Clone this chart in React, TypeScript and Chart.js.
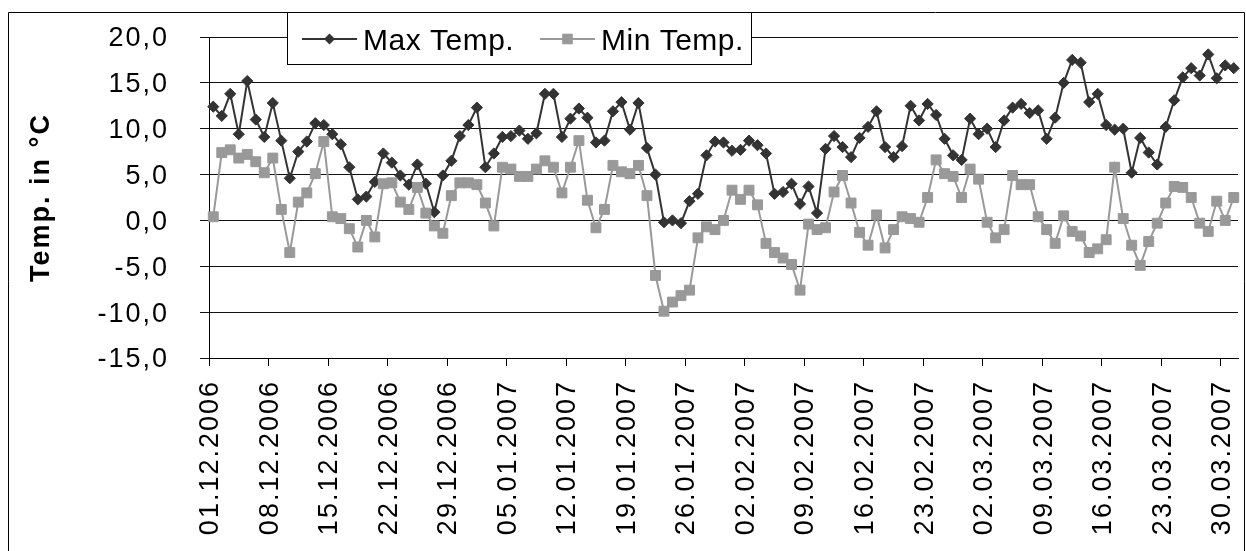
import React, { useEffect, useRef } from 'react';
import { Chart, registerables } from 'chart.js';

Chart.register(...registerables);

// ---------- data ----------
const MONTHS = [
  { month: 12, year: 2006, days: 31 },
  { month: 1, year: 2007, days: 31 },
  { month: 2, year: 2007, days: 28 },
  { month: 3, year: 2007, days: 31 },
];
const pad2 = (n: number) => String(n).padStart(2, '0');
const categories: string[] = [];
MONTHS.forEach(({ month, year, days }) => {
  for (let d = 1; d <= days; d++) categories.push(`${pad2(d)}.${pad2(month)}.${year}`);
});

const maxTemp = [
  12.4, 11.4, 13.8, 9.4, 15.2, 11.0, 9.1, 12.8, 8.7, 4.6,
  7.5, 8.6, 10.6, 10.4, 9.4, 8.3, 5.8, 2.3, 2.6, 4.2,
  7.3, 6.3, 4.9, 3.9, 6.1, 4.0, 0.9, 4.9, 6.5, 9.2,
  10.4, 12.3, 5.8, 7.3, 9.1, 9.2, 9.8, 8.9, 9.5, 13.8,
  13.8, 9.1, 11.1, 12.2, 11.2, 8.5, 8.7, 11.9, 12.9, 9.9,
  12.8, 7.9, 5.0, -0.2, 0.0, -0.3, 2.1, 2.9, 7.1, 8.6,
  8.5, 7.6, 7.7, 8.7, 8.2, 7.3, 2.9, 3.1, 4.0, 1.8,
  3.7, 0.8, 7.8, 9.2, 8.0, 6.9, 9.0, 10.2, 11.9, 8.0,
  6.9, 8.1, 12.5, 10.9, 12.7, 11.5, 8.9, 7.1, 6.6, 11.1,
  9.4, 10.0, 8.0, 10.9, 12.3, 12.7, 11.7, 12.0, 8.9, 11.2,
  15.0, 17.5, 17.2, 12.9, 13.8, 10.4, 9.9, 10.0, 5.2, 9.0,
  7.4, 6.1, 10.2, 13.1, 15.6, 16.6, 15.8, 18.1, 15.5, 16.9,
  16.6,
];

const minTemp = [
  0.4, 7.4, 7.7, 6.8, 7.2, 6.4, 5.2, 6.8, 1.2, -3.5,
  2.0, 3.0, 5.1, 8.6, 0.4, 0.2, -0.9, -2.9, 0.0, -1.8,
  4.0, 4.1, 2.0, 1.2, 3.6, 0.8, -0.6, -1.4, 2.7, 4.1,
  4.1, 3.9, 1.9, -0.6, 5.8, 5.6, 4.8, 4.8, 5.6, 6.5,
  5.8, 3.0, 5.8, 8.7, 2.2, -0.8, 1.2, 6.0, 5.3, 5.1,
  6.0, 2.7, -6.0, -9.9, -8.9, -8.2, -7.6, -1.9, -0.7, -1.0,
  0.0, 3.3, 2.3, 3.3, 1.7, -2.5, -3.5, -4.1, -4.8, -7.6,
  -0.4, -1.0, -0.8, 3.1, 4.9, 1.9, -1.3, -2.7, 0.6, -3.0,
  -1.0, 0.4, 0.2, -0.2, 2.5, 6.6, 5.1, 4.8, 2.5, 5.6,
  4.5, -0.2, -1.9, -1.0, 4.9, 3.9, 3.9, 0.4, -1.0, -2.5,
  0.5, -1.2, -1.7, -3.5, -3.1, -2.1, 5.8, 0.2, -2.7, -4.9,
  -2.3, -0.3, 1.9, 3.7, 3.6, 2.5, -0.3, -1.2, 2.1, 0.0,
  2.5,
];

const seriesLabels = ['Max Temp.', 'Min Temp.'];
const yAxisTitle = 'Temp. in °C';
const yMin = -15;
const yMax = 20;
const yStep = 5;
const labelEvery = 7;

// ---------- styling ----------
const FONT = '"Liberation Sans", Arial, sans-serif';
const MAX_COLOR = '#333333';
const MIN_COLOR = '#999999';
const W = 1246;
const H = 551;

const zeroPadding = (s: any) => {
  s.paddingTop = 0;
  s.paddingBottom = 0;
  s.paddingLeft = 0;
  s.paddingRight = 0;
};

const framePlugin = {
  id: 'frameAndLetterSpacing',
  beforeDraw(chart: any) {
    const ctx = chart.ctx as any;
    ctx.letterSpacing = '2px';
  },
  afterDraw(chart: any) {
    const ctx = chart.ctx as any;
    ctx.save();
    ctx.letterSpacing = '0px';
    ctx.strokeStyle = '#000';
    ctx.lineWidth = 1;
    ctx.beginPath();
    ctx.moveTo(8.5, H);
    ctx.lineTo(8.5, 12.5);
    ctx.lineTo(1244.5, 12.5);
    ctx.lineTo(1244.5, H);
    ctx.stroke();

    // legend box
    const bx = 287.5, by = 12.5, bw = 464, bh = 52;
    ctx.fillStyle = '#fff';
    ctx.fillRect(bx, by, bw, bh);
    ctx.strokeRect(bx, by, bw, bh);
    const startX = [302, 540];
    const cy = 39;
    chart.data.datasets.forEach((ds: any, i: number) => {
      const x0 = startX[i];
      ctx.strokeStyle = ds.borderColor;
      ctx.lineWidth = 2;
      ctx.beginPath();
      ctx.moveTo(x0, cy);
      ctx.lineTo(x0 + 55, cy);
      ctx.stroke();
      const mx = x0 + 27.5;
      ctx.fillStyle = ds.pointBackgroundColor;
      ctx.beginPath();
      if (ds.pointStyle === 'rectRot') {
        const r = 5.5;
        ctx.moveTo(mx - r, cy);
        ctx.lineTo(mx, cy - r);
        ctx.lineTo(mx + r, cy);
        ctx.lineTo(mx, cy + r);
        ctx.closePath();
      } else {
        ctx.rect(mx - 5.3, cy - 5.3, 10.6, 10.6);
      }
      ctx.fill();
      ctx.fillStyle = '#000';
      ctx.font = `30px ${FONT}`;
      ctx.letterSpacing = '0.5px';
      ctx.textAlign = 'left';
      ctx.textBaseline = 'alphabetic';
      ctx.fillText(ds.label, x0 + 61, 49.5);
      ctx.letterSpacing = '0px';
    });
    ctx.restore();
  },
};

export default function App() {
  const ref = useRef<HTMLCanvasElement | null>(null);

  useEffect(() => {
    document.body.style.margin = '0';
    document.body.style.overflow = 'hidden';
    const canvas = ref.current;
    if (!canvas) return;
    Chart.defaults.font.family = FONT;
    Chart.defaults.color = '#000';

    const chart = new Chart(canvas, {
      type: 'line',
      data: {
        labels: categories,
        datasets: [
          {
            label: seriesLabels[0],
            data: maxTemp,
            borderColor: MAX_COLOR,
            backgroundColor: MAX_COLOR,
            pointBackgroundColor: MAX_COLOR,
            pointBorderColor: MAX_COLOR,
            pointStyle: 'rectRot',
            pointRadius: 5.6,
            pointBorderWidth: 1,
            borderWidth: 2,
            tension: 0,
            fill: false,
            order: 1,
          },
          {
            label: seriesLabels[1],
            data: minTemp,
            borderColor: MIN_COLOR,
            backgroundColor: MIN_COLOR,
            pointBackgroundColor: MIN_COLOR,
            pointBorderColor: MIN_COLOR,
            pointStyle: 'rect',
            pointRadius: 7,
            pointBorderWidth: 1,
            borderWidth: 2,
            tension: 0,
            fill: false,
            order: 0,
          },
        ],
      },
      options: {
        responsive: false,
        animation: false,
        devicePixelRatio: 1,
        layout: { padding: { top: 37, right: 2, bottom: 0, left: 0 } },
        plugins: {
          legend: { display: false },
          tooltip: { enabled: false },
          title: { display: false },
        },
        scales: {
          x: {
            type: 'category',
            offset: true,
            afterFit: (s: any) => {
              s.height = H - 358;
              zeroPadding(s);
            },
            grid: {
              offset: true,
              drawOnChartArea: false,
              drawTicks: true,
              tickLength: 8,
              lineWidth: 1,
              color: (c: any) => (typeof c.index === 'number' && c.index % labelEvery === 0 ? '#000' : 'rgba(0,0,0,0)'),
            },
            border: { display: true, color: '#000', width: 1 },
            ticks: {
              autoSkip: false,
              maxRotation: 90,
              minRotation: 90,
              padding: 14,
              labelOffset: -2.5,
              font: { size: 27 },
              color: '#000',
              callback: function (this: any, value: any, index: number) {
                return index % labelEvery === 0 ? categories[index] : '';
              },
            },
          },
          y: {
            min: yMin,
            max: yMax,
            afterFit: (s: any) => {
              s.width = 209;
              zeroPadding(s);
            },
            grid: {
              color: '#111',
              lineWidth: 1,
              drawTicks: true,
              tickLength: 9,
            },
            border: { display: true, color: '#000', width: 1 },
            ticks: {
              stepSize: yStep,
              padding: 31,
              labelOffset: 2,
              font: { size: 27 },
              color: '#000',
              callback: (v: any) => Number(v).toFixed(1).replace('.', ','),
            },
            title: {
              display: true,
              text: yAxisTitle,
              font: { size: 27, weight: 'bold' },
              color: '#000',
              padding: { top: 25, bottom: 0 },
            },
          },
        },
      },
      plugins: [framePlugin],
    } as any);

    return () => {
      chart.destroy();
    };
  }, []);

  return <canvas ref={ref} width={W} height={H} style={{ display: 'block', width: W, height: H }} />;
}
